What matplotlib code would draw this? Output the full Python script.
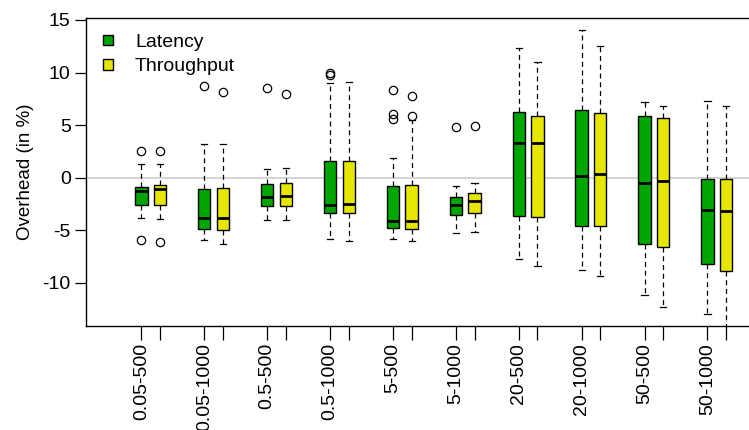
import matplotlib
matplotlib.use("Agg")
import matplotlib.pyplot as plt
from matplotlib.patches import Patch

plt.rcParams['font.family'] = ['Liberation Sans', 'DejaVu Sans']

categories = ["0.05-500", "0.05-1000", "0.5-500", "0.5-1000", "5-500",
              "5-1000", "20-500", "20-1000", "50-500", "50-1000"]

# five-number summaries: (lower whisker, Q1, median, Q3, upper whisker)
latency_stats = [
    (-3.81, -2.63, -1.24, -0.89, 1.28),
    (-5.97, -4.92, -3.81, -1.08, 3.21),
    (-4.00, -2.73, -1.84, -0.57, 0.80),
    (-5.84, -3.33, -2.60, 1.62, 8.99),
    (-5.87, -4.82, -4.10, -0.79, 1.90),
    (-5.30, -3.58, -2.57, -1.81, -0.76),
    (-7.74, -3.68, 3.33, 6.23, 12.29),
    (-8.76, -4.57, 0.19, 6.42, 14.04),
    (-11.14, -6.31, -0.48, 5.85, 7.24),
    (-13.00, -8.25, -3.11, -0.16, 7.33),
]
latency_outliers = [
    [2.54, -5.90],
    [8.70],
    [8.57],
    [10.00, 9.78],
    [8.32, 6.07, 5.59],
    [4.83],
    [],
    [],
    [],
    [],
]

throughput_stats = [
    (-3.90, -2.60, -1.11, -0.73, 1.33),
    (-6.29, -5.00, -3.81, -0.95, 3.21),
    (-4.06, -2.73, -1.74, -0.48, 0.92),
    (-6.06, -3.36, -2.50, 1.62, 9.14),
    (-6.06, -4.86, -4.12, -0.70, 5.47),
    (-5.20, -3.36, -2.25, -1.49, -0.48),
    (-8.38, -3.77, 3.27, 5.90, 11.02),
    (-9.36, -4.57, 0.38, 6.19, 12.48),
    (-12.31, -6.57, -0.31, 5.69, 6.86),
    (-15.50, -8.92, -3.17, -0.12, 6.86),
]
throughput_outliers = [
    [2.54, -6.15],
    [8.13],
    [8.00],
    [],
    [7.81, 5.85],
    [4.92],
    [],
    [],
    [],
    [],
]

series_names = ["Latency", "Throughput"]
series_colors = ["#00A600", "#E6E600"]

def to_bxp(stats, outliers):
    out = []
    for (lo, q1, med, q3, hi), fl in zip(stats, outliers):
        out.append(dict(whislo=lo, q1=q1, med=med, q3=q3, whishi=hi, fliers=fl))
    return out

W, H = 749, 430
fig = plt.figure(figsize=(W / 100, H / 100), dpi=100)

unit_px = 62.9
x_left = -0.88
x_right = 9.9
ax_left_px = 86
ax_top_px = 18
ax_bot_px = 326
ax = fig.add_axes([ax_left_px / W, (H - ax_bot_px) / H,
                   (x_right - x_left) * unit_px / W, (ax_bot_px - ax_top_px) / H])

offset = 0.297
box_w = 0.196
pos_lat = [i for i in range(len(categories))]
pos_thr = [i + offset for i in range(len(categories))]

ax.axhline(0, color="#cccccc", lw=1.2, zorder=0)

for stats, outl, pos, col in [(latency_stats, latency_outliers, pos_lat, series_colors[0]),
                              (throughput_stats, throughput_outliers, pos_thr, series_colors[1])]:
    ax.bxp(to_bxp(stats, outl), positions=pos, widths=box_w, capwidths=box_w * 0.5,
           patch_artist=True, manage_ticks=False,
           boxprops=dict(facecolor=col, edgecolor="black", linewidth=1.0),
           medianprops=dict(color="black", linewidth=2.0, solid_capstyle="butt"),
           whiskerprops=dict(color="black", linewidth=0.9, linestyle=(0, (4, 3))),
           capprops=dict(color="black", linewidth=0.9),
           flierprops=dict(marker="o", markerfacecolor="none", markeredgecolor="black",
                           markersize=6, markeredgewidth=0.9))

ax.set_xlim(x_left, x_right)
ax.set_ylim(-14.12, 15.19)
ax.set_yticks([-10, -5, 0, 5, 10, 15])
ax.set_yticklabels(["-10", "-5", "0", "5", "10", "15"])
ax.tick_params(axis="y", direction="out", length=8, width=0.9, labelsize=14, pad=3)

all_pos = sorted(pos_lat + pos_thr)
ax.set_xticks(all_pos)
ax.set_xticklabels([""] * len(all_pos))
ax.tick_params(axis="x", direction="out", length=10, width=0.9)
for p, lab in zip(pos_lat, categories):
    ax.text(p, -0.055, lab, transform=ax.get_xaxis_transform(), rotation=90,
            ha="center", va="top", fontsize=14)

ax.set_ylabel("Overhead (in %)", fontsize=13.5, labelpad=6)

for s in ax.spines.values():
    s.set_linewidth(1.0)

handles = [Patch(facecolor=c, edgecolor="black", linewidth=1.0, label=n)
           for n, c in zip(series_names, series_colors)]
fig.legend(handles=handles, loc="upper left", bbox_to_anchor=(103 / W, 1 - 34 / H),
           frameon=False, fontsize=14, handlelength=0.52, handleheight=0.47,
           handletextpad=1.13, labelspacing=0.38, borderaxespad=0, borderpad=0)

fig.savefig("out.png", dpi=100)
